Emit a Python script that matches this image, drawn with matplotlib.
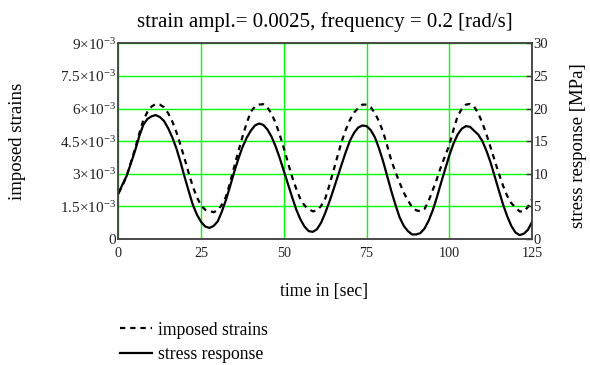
import numpy as np
import matplotlib
matplotlib.use('Agg')
import matplotlib.pyplot as plt
from matplotlib.ticker import FixedLocator, FixedFormatter

# imposed strains, in units of 1e-3 (dashed, left axis), read every 1.25 s from t = 0 to 125
strain_e3 = [2.10, 2.47, 2.91, 3.52, 4.14, 4.83, 5.46, 5.84, 6.09, 6.21,
	6.18, 6.06, 5.79, 5.41, 4.92, 4.32, 3.69, 3.02, 2.40, 1.91,
	1.53, 1.34, 1.29, 1.23, 1.32, 1.57, 1.95, 2.60, 3.33, 4.03,
	4.71, 5.33, 5.85, 6.09, 6.18, 6.20, 6.06, 5.76, 5.34, 4.79,
	4.17, 3.50, 2.85, 2.30, 1.83, 1.54, 1.38, 1.27, 1.32, 1.52,
	1.86, 2.47, 3.15, 3.83, 4.50, 5.04, 5.49, 5.82, 6.03, 6.18,
	6.18, 6.06, 5.79, 5.41, 4.92, 4.28, 3.60, 3.07, 2.58, 2.13,
	1.77, 1.47, 1.32, 1.27, 1.38, 1.75, 2.25, 2.76, 3.33, 3.83,
	4.32, 5.02, 5.64, 5.98, 6.18, 6.21, 6.09, 5.78, 5.34, 4.80,
	4.20, 3.60, 3.00, 2.45, 1.98, 1.65, 1.44, 1.27, 1.26, 1.47,
	1.83]

# stress response [MPa] (solid, right axis), same time steps
stress = [7.0, 8.4, 9.7, 11.6, 13.5, 15.7, 17.5, 18.4, 18.8, 19.0,
	18.7, 18.1, 17.0, 15.6, 13.9, 11.8, 9.5, 7.3, 5.2, 3.7,
	2.6, 1.9, 1.7, 2.0, 2.7, 4.2, 6.0, 8.1, 10.3, 12.3,
	14.1, 15.5, 16.6, 17.4, 17.7, 17.5, 16.8, 15.7, 14.2, 12.4,
	10.4, 8.4, 6.4, 4.5, 3.0, 1.9, 1.2, 1.1, 1.5, 2.5,
	4.0, 5.7, 7.6, 9.55, 11.5, 13.4, 15.1, 16.3, 17.1, 17.4,
	17.3, 16.7, 15.6, 13.9, 11.9, 9.6, 7.3, 5.2, 3.3, 2.0,
	1.2, 0.7, 0.7, 0.9, 1.6, 2.8, 4.4, 6.4, 8.6, 10.7,
	12.8, 14.6, 16.0, 16.9, 17.3, 17.2, 16.6, 16.0, 15.0, 13.5,
	11.7, 9.55, 7.4, 5.3, 3.5, 2.0, 1.0, 0.6, 0.8, 1.4,
	2.6]

time = np.linspace(0, 125, len(stress))

x_ticks = [0, 25, 50, 75, 100, 125]
strain_ticks = [0, 1.5e-3, 3e-3, 4.5e-3, 6e-3, 7.5e-3, 9e-3]
strain_labels = ['0', r'$1.5{\times}10^{-3}$', r'$3{\times}10^{-3}$', r'$4.5{\times}10^{-3}$',
	r'$6{\times}10^{-3}$', r'$7.5{\times}10^{-3}$', r'$9{\times}10^{-3}$']
stress_ticks = [0, 5, 10, 15, 20, 25, 30]

plt.rcParams['font.family'] = ['Liberation Serif', 'DejaVu Serif']
plt.rcParams['mathtext.fontset'] = 'custom'
plt.rcParams['mathtext.rm'] = 'Liberation Serif'
plt.rcParams['mathtext.it'] = 'Liberation Serif:italic'
plt.rcParams['mathtext.default'] = 'regular'

fig = plt.figure(figsize=(5.9, 3.65), dpi=100)
ax = fig.add_axes([0.2008, 0.3452, 0.7009, 0.5362])
ax2 = ax.twinx()

dashed = (0, (2.4, 2.2))
l1, = ax.plot(time, np.array(strain_e3) * 1e-3, color='black', lw=1.6, linestyle=dashed)
l2, = ax2.plot(time, stress, color='black', lw=1.6)

ax.set_xlim(0, 125)
ax.set_ylim(0, 9e-3)
ax2.set_ylim(0, 30)

ax.xaxis.set_major_locator(FixedLocator(x_ticks))
ax.yaxis.set_major_locator(FixedLocator(strain_ticks))
ax.yaxis.set_major_formatter(FixedFormatter(strain_labels))
ax2.yaxis.set_major_locator(FixedLocator(stress_ticks))

ax.grid(True, color='#00ff00', lw=1.0)
ax.tick_params(axis='both', length=0, colors='#222222')
ax.tick_params(axis='x', pad=5.5, labelsize=10.2)
ax.tick_params(axis='y', pad=1.5, labelsize=11)
ax2.tick_params(axis='y', direction='in', length=4.5, width=1.0, pad=1, labelsize=10.5,
	color='#333333', labelcolor='#222222')

for a in (ax, ax2):
	for s in a.spines.values():
		s.set_color('#444444')
		s.set_linewidth(1.1)

ax.set_title('strain ampl.= 0.0025, frequency = 0.2 [rad/s]', fontsize=15, pad=12)
fig.text(0.0305, 0.612, 'imposed strains', rotation=90, fontsize=13.5, ha='center', va='center')
fig.text(0.98, 0.60, 'stress response [MPa]', rotation=90, fontsize=13.5, ha='center', va='center')
fig.text(0.549, 0.2008, 'time in [sec]', fontsize=12.7, ha='center', va='center')

fig.legend([l1, l2], ['imposed strains', 'stress response'], loc='upper left',
	bbox_to_anchor=(0.2034, 0.119), frameon=False, fontsize=12.7,
	handlelength=1.8, handletextpad=0.35, labelspacing=0.42, borderaxespad=0, borderpad=0)

fig.savefig('out.png', dpi=100)
